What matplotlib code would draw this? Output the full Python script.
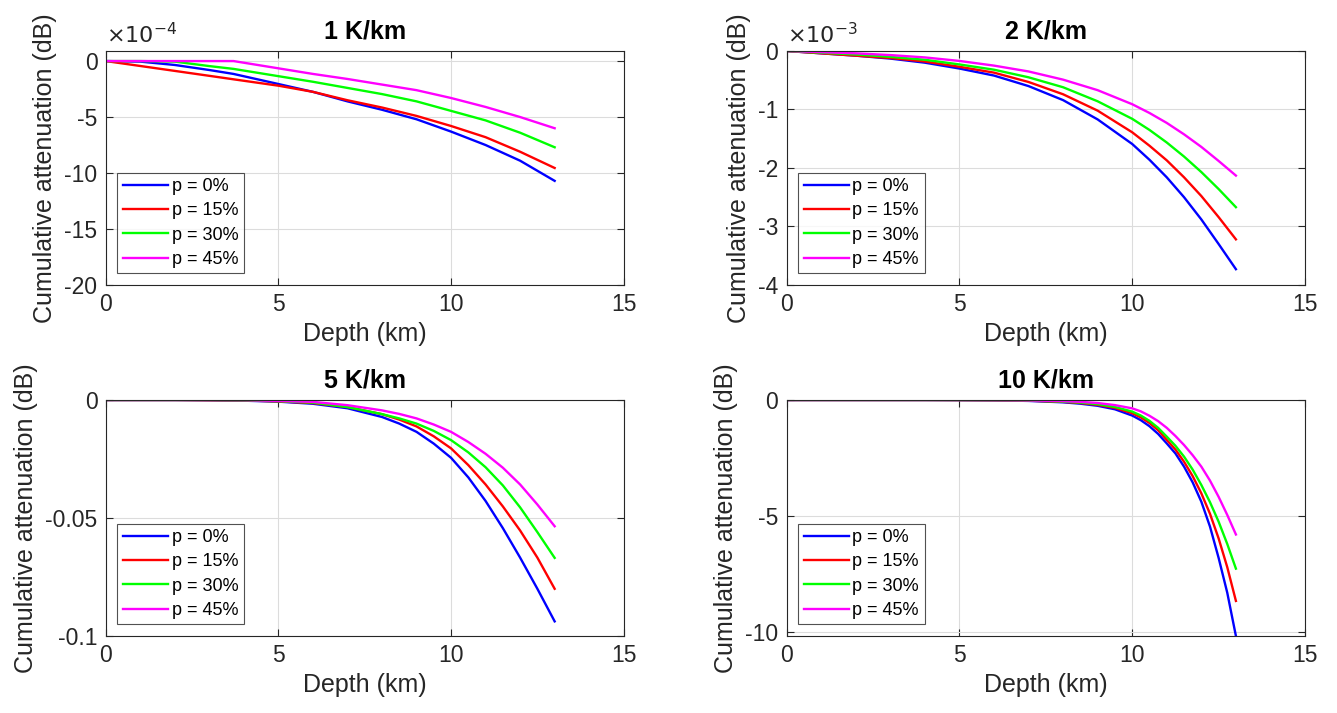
import numpy as np
import matplotlib
matplotlib.use("Agg")
from matplotlib import pyplot as plt

plt.rcParams['font.family'] = ['Liberation Sans', 'DejaVu Sans']
plt.rcParams['axes.unicode_minus'] = False

labels = ['p = 0%', 'p = 15%', 'p = 30%', 'p = 45%']
colors = ['#0000ff', '#ff0000', '#00ff00', '#ff00ff']

# 1 K/km, values in units of 1e-4 dB
depth_1k = [0, 1, 2, 3, 3.7, 5, 6, 7, 8, 9, 10, 11, 12, 13]
att_1k_p0 = [0, -0.05, -0.35, -0.8, -1.15, -2.05, -2.75, -3.6, -4.35, -5.2, -6.3, -7.5, -8.9, -10.7]
att_1k_p15 = [0, -0.44, -0.88, -1.32, -1.63, -2.2, -2.75, -3.5, -4.15, -4.9, -5.8, -6.8, -8.1, -9.55]
att_1k_p30 = [0, 0, -0.05, -0.45, -0.7, -1.35, -1.85, -2.4, -2.95, -3.6, -4.45, -5.3, -6.4, -7.7]
att_1k_p45 = [0, 0, 0, 0, 0, -0.65, -1.15, -1.6, -2.1, -2.6, -3.3, -4.1, -5.0, -6.0]

# 2 K/km, values in units of 1e-3 dB
depth_2k = [0, 1, 2, 3, 4, 5, 6, 7, 8, 9, 10, 10.5, 11, 11.5, 12, 12.5, 13]
att_2k_p0 = [0, -0.04, -0.08, -0.13, -0.2, -0.3, -0.42, -0.6, -0.84, -1.17, -1.59, -1.86, -2.16, -2.5, -2.88, -3.3, -3.73]
att_2k_p15 = [0, -0.04, -0.08, -0.12, -0.18, -0.27, -0.37, -0.53, -0.74, -1.02, -1.39, -1.62, -1.87, -2.16, -2.48, -2.84, -3.22]
att_2k_p30 = [0, -0.03, -0.06, -0.1, -0.15, -0.23, -0.32, -0.45, -0.62, -0.86, -1.16, -1.35, -1.565, -1.805, -2.07, -2.36, -2.67]
att_2k_p45 = [0, -0.02, -0.04, -0.07, -0.11, -0.17, -0.25, -0.35, -0.49, -0.67, -0.91, -1.06, -1.23, -1.425, -1.64, -1.88, -2.13]

# 5 K/km (dB)
depth_5k = [0, 1, 2, 3, 4, 5, 6, 7, 8, 8.5, 9, 9.5, 10, 10.5, 11, 11.5, 12, 12.5, 13]
att_5k_p0 = [0, 0, 0, -0.0001, -0.0003, -0.0007, -0.0016, -0.0035, -0.0072, -0.01, -0.0135, -0.0185, -0.0245, -0.0328, -0.0428, -0.0543, -0.0668, -0.080, -0.0938]
att_5k_p15 = [0, 0, 0, -0.0001, -0.0002, -0.0006, -0.0013, -0.003, -0.006, -0.0083, -0.0112, -0.0154, -0.0205, -0.0276, -0.0358, -0.0451, -0.0553, -0.0668, -0.080]
att_5k_p30 = [0, 0, 0, 0, -0.0002, -0.0005, -0.0011, -0.003, -0.006, -0.0078, -0.01, -0.0131, -0.017, -0.0222, -0.0285, -0.0362, -0.0455, -0.056, -0.0669]
att_5k_p45 = [0, 0, 0, 0, -0.0001, -0.0004, -0.0008, -0.0022, -0.0044, -0.0059, -0.0078, -0.0104, -0.0135, -0.0178, -0.0228, -0.0287, -0.0358, -0.0443, -0.0535]

# 10 K/km (dB), finer depth grid near the bottom
depth_10k = [0, 1, 2, 3, 4, 5, 6, 7, 8, 8.5, 9, 9.5, 10, 10.25, 10.5, 10.75, 11, 11.25, 11.5, 11.75, 12, 12.25, 12.5, 12.75, 13]
att_10k_p0 = [0, 0, 0, 0, 0, -0.005, -0.015, -0.04, -0.1, -0.16, -0.25, -0.4, -0.67, -0.87, -1.13, -1.46, -1.87, -2.3, -2.87, -3.55, -4.38, -5.45, -6.8, -8.3, -10.16]
att_10k_p15 = [0, 0, 0, 0, 0, -0.004, -0.012, -0.03, -0.08, -0.13, -0.21, -0.34, -0.57, -0.75, -0.99, -1.3, -1.72, -2.13, -2.66, -3.28, -4.02, -4.9, -5.96, -7.2, -8.65]
att_10k_p30 = [0, 0, 0, 0, 0, -0.003, -0.01, -0.025, -0.07, -0.11, -0.18, -0.3, -0.5, -0.67, -0.9, -1.2, -1.58, -1.97, -2.44, -3.0, -3.66, -4.4, -5.24, -6.2, -7.26]
att_10k_p45 = [0, 0, 0, 0, 0, -0.002, -0.008, -0.02, -0.05, -0.08, -0.13, -0.22, -0.36, -0.49, -0.68, -0.91, -1.2, -1.55, -1.94, -2.38, -2.87, -3.47, -4.17, -4.95, -5.79]

panels = [
    ('1 K/km', depth_1k, [att_1k_p0, att_1k_p15, att_1k_p30, att_1k_p45], (-20, 0.9), [-20, -15, -10, -5, 0], r'$\times10^{-4}$'),
    ('2 K/km', depth_2k, [att_2k_p0, att_2k_p15, att_2k_p30, att_2k_p45], (-4, 0), [-4, -3, -2, -1, 0], r'$\times10^{-3}$'),
    ('5 K/km', depth_5k, [att_5k_p0, att_5k_p15, att_5k_p30, att_5k_p45], (-0.1, 0), [-0.1, -0.05, 0], None),
    ('10 K/km', depth_10k, [att_10k_p0, att_10k_p15, att_10k_p30, att_10k_p45], (-10.16, 0), [-10, -5, 0], None),
]

# axes boxes in figure fractions [left, bottom, width, height]
boxes = [
    [0.0791, 0.6003, 0.3874, 0.3282],
    [0.5883, 0.6003, 0.3878, 0.3282],
    [0.0791, 0.1080, 0.3874, 0.3310],
    [0.5883, 0.1080, 0.3878, 0.3310],
]

fig = plt.figure(figsize=(13.37, 7.13), dpi=100)
edge = '#262626'

for (title, x, series, ylim, yticks, mult), box in zip(panels, boxes):
    ax = fig.add_axes(box)
    for y, c, lab in zip(series, colors, labels):
        ax.plot(x, y, color=c, lw=1.7, label=lab)
    ax.set_xlim(0, 15)
    ax.set_ylim(*ylim)
    ax.set_xticks([0, 5, 10, 15])
    ax.set_yticks(yticks)
    ax.set_yticklabels(['%g' % t for t in yticks])
    ax.grid(True, color='#dcdcdc', lw=0.8)
    ax.set_axisbelow(True)
    for s in ax.spines.values():
        s.set_color(edge)
        s.set_linewidth(0.8)
    ax.tick_params(direction='in', length=5, width=0.8, color=edge, labelsize=16.5,
                   top=True, right=True, labelcolor='#262626', pad=6)
    ax.set_title(title, fontsize=18, fontweight='bold', pad=9)
    ax.set_xlabel('Depth (km)', fontsize=18, color='#262626', labelpad=4)
    ax.set_ylabel('Cumulative attenuation (dB)', fontsize=18, color='#262626', labelpad=5)
    if mult:
        ax.text(0.0, 1.01, mult, transform=ax.transAxes, fontsize=16, color='#262626',
                ha='left', va='bottom')
    leg = ax.legend(loc='lower left', fontsize=13, frameon=True, fancybox=False,
                    handlelength=2.5, handletextpad=0.2, labelspacing=0.4,
                    borderpad=0.3, borderaxespad=0.65)
    leg.get_frame().set_edgecolor(edge)
    leg.get_frame().set_linewidth(0.8)

fig.savefig('out.png', dpi=100)
